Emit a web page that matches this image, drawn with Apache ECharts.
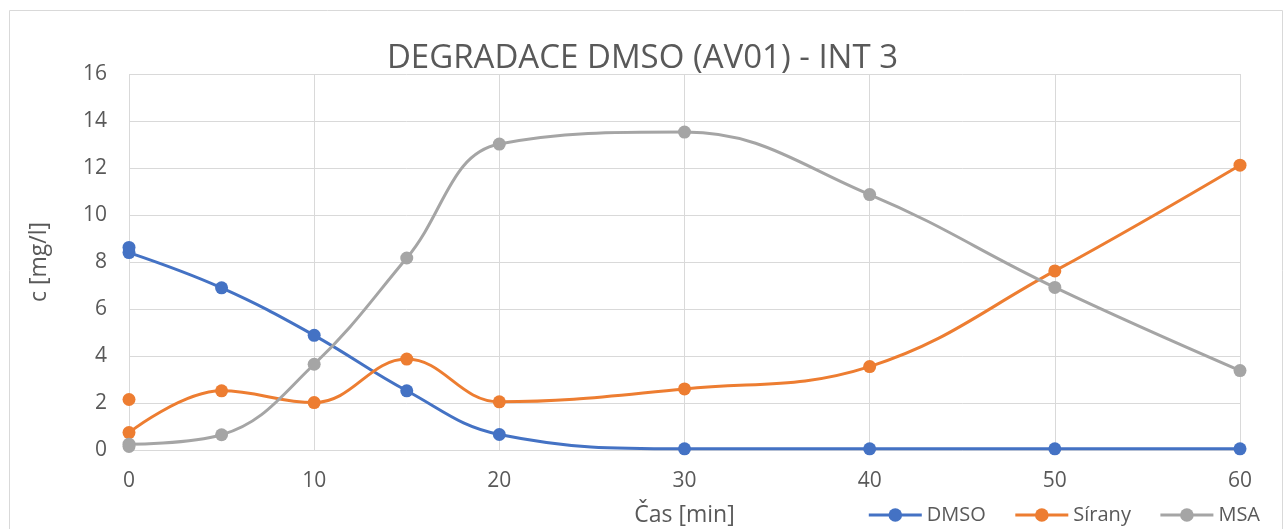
<!DOCTYPE html>
<html><head><meta charset="utf-8">
<script src="https://cdn.jsdelivr.net/npm/echarts@6/dist/echarts.min.js"></script>
<style>html,body{margin:0;padding:0;background:#fff}#c{width:1285px;height:529px}</style>
</head><body><div id="c"></div>
<script>
const times = [0, 5, 10, 15, 20, 30, 40, 50, 60];
const dmso = [8.4, 6.9, 4.88, 2.52, 0.66, 0.05, 0.05, 0.05, 0.05];
const sirany = [0.74, 2.52, 2.02, 3.87, 2.05, 2.6, 3.55, 7.62, 12.12];
const msa = [0.25, 0.65, 3.65, 8.17, 13.02, 13.53, 10.87, 6.92, 3.38];
// extra initial measurements at t = 0 (markers only)
const dmsoExtra = [[0, 8.62]];
const siranyExtra = [[0, 2.15]];
const msaExtra = [[0, 0.15]];

const colors = {DMSO:'#4472C4', 'Sírany':'#ED7D31', MSA:'#A5A5A5'};
const font = 'Open Sans, Liberation Sans, sans-serif';
const pair = arr => times.map((t,i)=>[t, arr[i]]);
function lineSeries(name, arr){
  return {name, type:'line', data:pair(arr), smooth:0.4, symbol:'circle', symbolSize:13,
    lineStyle:{width:3, color:colors[name]}, itemStyle:{color:colors[name], opacity:1}, z:3};
}
function extraSeries(name, arr){
  return {name: name+'_0', type:'scatter', data:arr, symbol:'circle', symbolSize:13,
    itemStyle:{color:colors[name], opacity:1}, z:3};
}
const chart = echarts.init(document.getElementById('c'));
chart.setOption({
  animation:false,
  title:{text:'DEGRADACE DMSO (AV01) - INT 3', left:'center', top:37,
    textStyle:{fontFamily:font, fontSize:33, fontWeight:'normal', color:'#595959'}},
  graphic:[{type:'rect', shape:{x:9.5, y:10.5, width:1273, height:540},
    style:{fill:'none', stroke:'#d9d9d9', lineWidth:1}, silent:true}],
  grid:{left:129, right:45, top:74, bottom:79, outerBoundsMode:'none', containLabel:false},
  legend:{data:['DMSO','Sírany','MSA'], right:20, top:500, itemWidth:53, itemHeight:17, itemGap:28,
    lineStyle:{width:3},
    textStyle:{fontFamily:font, fontSize:20, color:'#595959'}},
  xAxis:{type:'value', min:0, max:60, interval:10,
    name:'Čas [min]', nameLocation:'middle', nameGap:54,
    nameTextStyle:{fontFamily:font, fontSize:23, color:'#595959'},
    axisLine:{show:false}, axisTick:{show:false},
    axisLabel:{fontFamily:font, fontSize:21, color:'#595959', margin:21},
    splitLine:{show:true, lineStyle:{color:'#d9d9d9', width:1}}},
  yAxis:{type:'value', min:0, max:16, interval:2,
    name:'c [mg/l]', nameLocation:'middle', nameGap:78, nameRotate:90,
    nameTextStyle:{fontFamily:font, fontSize:23, color:'#595959'},
    axisLine:{show:false}, axisTick:{show:false},
    axisLabel:{fontFamily:font, fontSize:21, color:'#595959', margin:22},
    splitLine:{lineStyle:{color:'#d9d9d9', width:1}}},
  series:[
    lineSeries('DMSO', dmso), lineSeries('Sírany', sirany), lineSeries('MSA', msa),
    extraSeries('DMSO', dmsoExtra), extraSeries('Sírany', siranyExtra), extraSeries('MSA', msaExtra)
  ]
});
</script></body></html>
